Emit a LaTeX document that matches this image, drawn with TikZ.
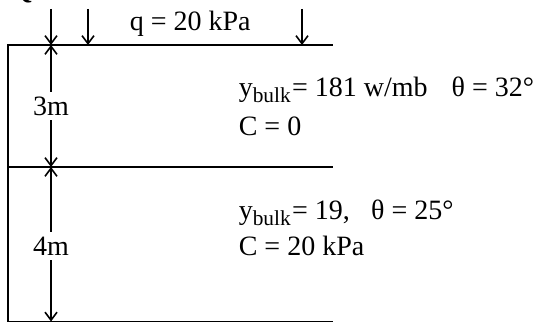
\documentclass[tikz,border=0pt]{standalone}
\usepackage{fontspec}
\setmainfont{Liberation Serif}
\usetikzlibrary{arrows.meta}

\tikzset{every picture/.style={line width=1.2pt}}
\tikzset{
  load/.style={-{Straight Barb[length=6pt,width=9pt]}},
  dimend/.style={-{Straight Barb[length=6pt,width=9pt]}},
  txt/.style={anchor=base west,inner sep=0pt,font=\fontsize{21}{25}\selectfont},
  dimlbl/.style={inner sep=3pt,font=\fontsize{21}{25}\selectfont}
}
\newcommand{\sbulk}{y\raisebox{-4.5pt}{\fontsize{16}{18}\selectfont bulk}}

\begin{document}
\begin{tikzpicture}[x=0.75pt,y=0.75pt,yscale=-1,xscale=1]
\useasboundingbox (0,0) rectangle (548,323);

%Soil profile corners
\coordinate (tl) at (8,45);
\coordinate (tr) at (333,45);
\coordinate (ml) at (8,167);
\coordinate (mr) at (333,167);
\coordinate (bl) at (8,321.5);
\coordinate (br) at (333,321.5);

%Frame
\draw (bl) -- (tl) -- (tr) ;
\draw (ml) -- (mr) ;
\draw (bl) -- (br) ;

%Load arrows
\coordinate (qa0) at (51,9);
\coordinate (qa1) at (51,45);
\coordinate (qb0) at (88,9);
\coordinate (qb1) at (88,45);
\coordinate (qc0) at (302,9);
\coordinate (qc1) at (302,45);
\draw[load] (qa0) -- (qa1) ;
\draw[load] (qb0) -- (qb1) ;
\draw[load] (qc0) -- (qc1) ;

%Dimension lines
\coordinate (d1) at (51,167);
\coordinate (d2) at (51,321.5);
\node[dimlbl] (h1) at (51,106) {3m};
\node[dimlbl] (h2) at (51,246) {4m};
\draw[dimend] (h1) -- (qa1) ;
\draw[dimend] (h1) -- (d1) ;
\draw[dimend] (h2) -- (d1) ;
\draw[dimend] (h2) -- (d2) ;

% Text Node
\node[txt,font=\fontsize{21}{25}\selectfont\bfseries] (qno) at (10,-1) {Q7.};
% Text Node
\node[txt] (load) at (129,31) {q = 20 kPa};
% Text Node
\node[txt] (s1a) at (238,97) {\sbulk\hspace{1pt}= 181 w/mb\hspace{18pt}θ = 32°};
% Text Node
\node[txt] (s1b) at (238,136) {C = 0};
% Text Node
\node[txt] (s2a) at (238,220) {\sbulk\hspace{1pt}= 19,\hspace{16pt}θ = 25°};
% Text Node
\node[txt] (s2b) at (238,256) {C = 20 kPa};

\end{tikzpicture}
\end{document}
